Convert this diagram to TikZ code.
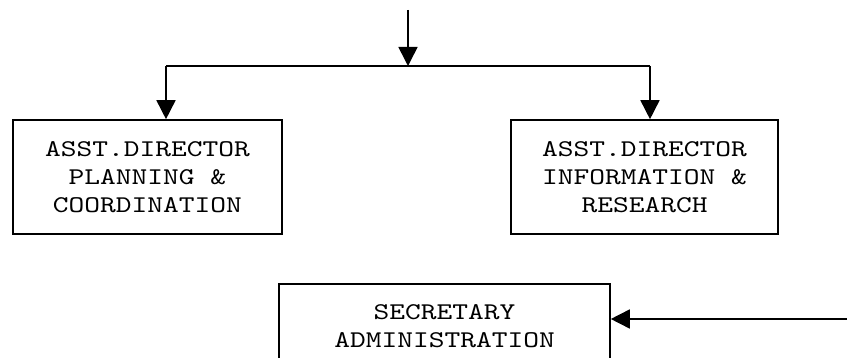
\documentclass[tikz,border=0pt]{standalone}
\usepackage{fontspec}
\setmonofont[FakeStretch=1.25]{lmmono10-regular.otf}
\usetikzlibrary{arrows.meta,positioning}

\begin{document}
\begin{tikzpicture}[x=0.5pt,y=-0.5pt,line width=0.8pt,
		>={Triangle[length=9.5pt,width=9.5pt]},
		office/.style={draw,rectangle,align=center,inner sep=0pt,
			font=\ttfamily\fontsize{12}{14}\selectfont}]
		\useasboundingbox (0,0) rectangle (847,358);
		\clip (0,0) rectangle (847,358);
		\node[office,minimum width=134.5pt,minimum height=57pt] (plan) at (147.5,177) {ASST.DIRECTOR\\PLANNING \&\\COORDINATION};
		\node[office,minimum width=133.5pt,minimum height=57pt] (info) at (644.5,177) {ASST.DIRECTOR\\INFORMATION \&\\RESEARCH};
		\node[office,minimum width=165.5pt,minimum height=42pt] (secy) at (444.5,326) {SECRETARY\\ADMINISTRATION};
		
		\coordinate (top) at (408,10);
		\coordinate (split) at (408,66);
		\coordinate (lbranch) at (166,66);
		\coordinate (rbranch) at (650,66);
		\coordinate (feed) at (847,319);
		
		\draw[->] (top) -- (split);
		\draw (lbranch) -- (rbranch);
		\draw[->] (lbranch) -- (lbranch |- plan.north);
		\draw[->] (rbranch) -- (rbranch |- info.north);
		\draw[->] (feed) -- (feed -| secy.east);
	\end{tikzpicture}
\end{document}
